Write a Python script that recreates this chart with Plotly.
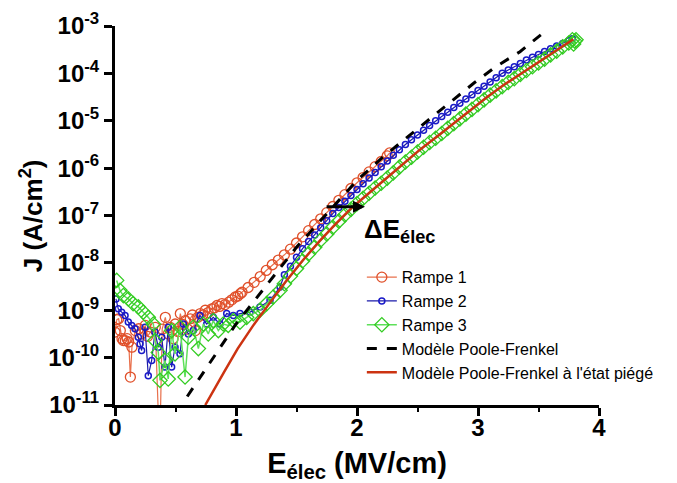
import numpy as np
import plotly.graph_objects as go

# ---------------- data (E in MV/cm, log10 J with J in A/cm^2) ----------------
r1_E = [0.00, 0.015, 0.03, 0.044, 0.058, 0.069, 0.085, 0.10, 0.113, 0.127, 0.14, 0.168, 0.196, 0.22,
        0.25, 0.27, 0.292, 0.333, 0.369, 0.39, 0.416, 0.44, 0.457, 0.48, 0.498, 0.52, 0.54, 0.56,
        0.581, 0.60, 0.622, 0.64, 0.664, 0.685, 0.705, 0.725, 0.746, 0.77, 0.80, 0.82, 0.843, 0.864,
        0.884, 0.91, 0.94, 0.965, 0.994, 1.015, 1.036,
        1.05, 1.10, 1.15, 1.20, 1.25, 1.30, 1.35, 1.40, 1.45, 1.50, 1.55, 1.60, 1.65, 1.70, 1.75,
        1.80, 1.85, 1.90, 1.95, 2.00, 2.05, 2.10, 2.15, 2.20, 2.25, 2.27]
r1_logJ = [-9.46, -9.20, -9.18, -9.43, -9.60, -9.64, -9.64, -9.60, -9.67, -10.41, -9.78, -9.43, -9.39, -9.50,
           -9.32, -9.55, -9.46, -9.36, -12.0, -9.40, -9.15, -9.50, -9.36, -9.60, -9.29, -9.45, -9.07, -9.30,
           -9.22, -9.40, -9.18, -9.10, -9.43, -9.15, -9.07, -9.10, -9.00, -9.05, -8.97, -8.95, -8.90, -8.92,
           -8.86, -8.88, -8.83, -8.78, -8.72, -8.70, -8.65,
           -8.62, -8.52, -8.41, -8.29, -8.16, -8.04, -7.94, -7.83, -7.71, -7.58, -7.45, -7.32, -7.19, -7.07, -6.94,
           -6.81, -6.68, -6.56, -6.43, -6.31, -6.20, -6.08, -5.97, -5.86, -5.74, -5.68]

r2_E = [0.008, 0.027, 0.055, 0.083, 0.11, 0.138, 0.165, 0.193, 0.207, 0.22, 0.248, 0.275, 0.303, 0.33,
        0.358, 0.386, 0.413, 0.44, 0.468, 0.496, 0.537, 0.565, 0.606, 0.647, 0.702, 0.758, 0.812, 0.868,
        0.923, 0.978, 1.033, 1.116, 1.198, 1.281, 1.364,
        1.40, 1.45, 1.50, 1.55, 1.60, 1.65, 1.70, 1.75, 1.80, 1.85, 1.90, 1.95, 2.00, 2.05, 2.10, 2.15,
        2.20, 2.25, 2.30, 2.35, 2.40, 2.45, 2.50, 2.55, 2.60, 2.65, 2.70, 2.75, 2.80, 2.85, 2.90, 2.95,
        3.00, 3.05, 3.10, 3.15, 3.20, 3.25, 3.30, 3.35, 3.40, 3.45, 3.50, 3.55, 3.60, 3.65, 3.70, 3.75, 3.78]
r2_logJ = [-8.76, -8.97, -9.04, -9.11, -9.25, -9.32, -9.39, -9.57, -9.71, -9.85, -9.36, -10.38, -10.06, -9.46,
           -9.78, -9.57, -10.20, -9.36, -10.20, -9.78, -9.92, -9.29, -9.50, -9.43, -9.11, -9.29, -9.15, -9.29,
           -9.07, -9.11, -9.07, -9.04, -8.93, -8.79, -8.51,
           -8.25, -8.07, -7.88, -7.70, -7.55, -7.41, -7.26, -7.11, -6.96, -6.83, -6.70, -6.58, -6.45, -6.33, -6.21, -6.09,
           -5.97, -5.85, -5.73, -5.61, -5.50, -5.40, -5.30, -5.20, -5.10, -5.00, -4.91, -4.82, -4.72, -4.63, -4.54, -4.45,
           -4.36, -4.27, -4.18, -4.09, -4.00, -3.93, -3.86, -3.79, -3.72, -3.66, -3.60, -3.54, -3.48, -3.42, -3.37, -3.31, -3.27]

r3_E = [0.014, 0.041, 0.069, 0.11, 0.15, 0.193, 0.234, 0.275, 0.317, 0.33, 0.358, 0.372, 0.413, 0.44,
        0.468, 0.496, 0.537, 0.579, 0.606, 0.647, 0.689, 0.73, 0.771, 0.812, 0.854, 0.895, 0.936, 0.978,
        1.033, 1.088, 1.143, 1.198, 1.254, 1.308, 1.364,
        1.40, 1.45, 1.50, 1.55, 1.60, 1.65, 1.70, 1.75, 1.80, 1.85, 1.90, 1.95, 2.00, 2.05, 2.10, 2.15,
        2.20, 2.25, 2.30, 2.35, 2.40, 2.45, 2.50, 2.55, 2.60, 2.65, 2.70, 2.75, 2.80, 2.85, 2.90, 2.95,
        3.00, 3.05, 3.10, 3.15, 3.20, 3.25, 3.30, 3.35, 3.40, 3.45, 3.50, 3.55, 3.60, 3.65, 3.70, 3.75,
        3.78, 3.79, 3.80, 3.81]
r3_logJ = [-8.37, -8.58, -8.69, -8.76, -8.86, -8.93, -9.04, -9.15, -9.29, -9.64, -9.89, -10.48, -10.06, -10.45,
           -9.43, -9.92, -9.36, -10.41, -9.57, -9.36, -9.81, -9.29, -9.50, -9.22, -9.43, -9.29, -9.32, -9.22,
           -9.25, -9.15, -9.07, -9.00, -8.86, -8.72, -8.58,
           -8.44, -8.28, -8.12, -7.96, -7.81, -7.67, -7.52, -7.39, -7.25, -7.12, -6.99, -6.87, -6.75, -6.64, -6.53, -6.42,
           -6.32, -6.21, -6.10, -5.98, -5.87, -5.77, -5.66, -5.56, -5.46, -5.37, -5.27, -5.16, -5.06, -4.96, -4.86, -4.76,
           -4.66, -4.56, -4.46, -4.37, -4.28, -4.19, -4.11, -4.02, -3.94, -3.86, -3.78, -3.70, -3.61, -3.53, -3.44, -3.36,
           -3.29, -3.38, -3.32, -3.29]

pf_E = [0.597, 1.0, 1.5, 2.0, 2.217, 2.405, 2.597, 2.782, 2.969, 3.155, 3.347, 3.526, 3.57]
pf_logJ = [-10.82, -9.29, -7.67, -6.26, -5.76, -5.375, -4.973, -4.586, -4.199, -3.846, -3.543, -3.169, -3.08]

pft_E = [0.746, 0.80, 0.90, 1.014, 1.14, 1.275, 1.41, 1.551, 1.69, 1.826, 1.96, 2.102, 2.24, 2.383,
         2.52, 2.659, 2.80, 2.934, 3.07, 3.209, 3.35, 3.485, 3.64, 3.788]
pft_logJ = [-11.0, -10.75, -10.31, -9.81, -9.33, -8.86, -8.40, -7.95, -7.54, -7.17, -6.83, -6.52, -6.22, -5.90,
            -5.61, -5.34, -5.05, -4.78, -4.51, -4.25, -4.01, -3.79, -3.53, -3.28]

y_tick_exps = [-11, -10, -9, -8, -7, -6, -5, -4, -3]
x_ticks = [0, 1, 2, 3, 4]

names = ["Rampe 1", "Rampe 2", "Rampe 3", "Modèle Poole-Frenkel", "Modèle Poole-Frenkel à l'état piégé"]

FONT = "Arial, 'Liberation Sans', sans-serif"

fig = go.Figure()
fig.add_trace(go.Scatter(x=r1_E, y=10 ** np.array(r1_logJ), name=names[0], mode="lines+markers",
                         line=dict(color="#E8704C", width=1.2),
                         marker=dict(symbol="circle-open", size=10, color="#E0502A", line=dict(width=1.3))))
fig.add_trace(go.Scatter(x=r2_E, y=10 ** np.array(r2_logJ), name=names[1], mode="lines+markers",
                         line=dict(color="#1A1AAA", width=1.2),
                         marker=dict(symbol="circle-open", size=6, color="#1A1AC8", line=dict(width=1.5))))
fig.add_trace(go.Scatter(x=r3_E, y=10 ** np.array(r3_logJ), name=names[2], mode="lines+markers",
                         line=dict(color="#5EE05A", width=1.5),
                         marker=dict(symbol="diamond-open", size=11, color="#33CC22", line=dict(width=1.3))))
fig.add_trace(go.Scatter(x=pf_E, y=10 ** np.array(pf_logJ), name=names[3], mode="lines",
                         line=dict(color="black", width=3, dash="10px,10px")))
fig.add_trace(go.Scatter(x=pft_E, y=10 ** np.array(pft_logJ), name=names[4], mode="lines",
                         line=dict(color="#CC3311", width=2.5)))

fig.add_annotation(x=2.066, y=-6.816, ax=1.736, ay=-6.816, xref="x", yref="y", axref="x", ayref="y",
                   showarrow=True, arrowhead=2, arrowsize=0.8, arrowwidth=3, arrowcolor="black", text="")
fig.add_annotation(x=2.04, y=-7.31, xref="x", yref="y", xanchor="left", yanchor="middle", showarrow=False,
                   text="ΔE<sub>élec</sub>", font=dict(family=FONT, size=26, color="black", weight="bold"))
# y-axis title placed as a rotated annotation
fig.add_annotation(x=-0.172, y=0.5, xref="paper", yref="paper", xanchor="center", yanchor="middle",
                   showarrow=False, textangle=-90, text="J (A/cm<sup>2</sup>)",
                   font=dict(family=FONT, size=26, color="black", weight="bold"))

fig.update_layout(
    width=677, height=483,
    margin=dict(l=115, r=78, t=26, b=78, autoexpand=False),
    paper_bgcolor="white", plot_bgcolor="white",
    font=dict(family=FONT, color="black"),
    showlegend=True,
    legend=dict(x=0.51, y=0.382, xanchor="left", yanchor="top", bgcolor="rgba(0,0,0,0)",
                font=dict(family=FONT, size=16, color="black"), tracegroupgap=0),
    xaxis=dict(range=[0, 4], tickvals=x_ticks, ticktext=[str(v) for v in x_ticks], automargin=False,
               showline=True, linewidth=3, linecolor="black", ticks="outside", ticklen=8, tickwidth=3,
               tickcolor="black", showgrid=False, zeroline=False, ticklabelstandoff=-9,
               minor=dict(dtick=0.5, ticks="outside", ticklen=4, tickwidth=2, tickcolor="black"),
               tickfont=dict(family=FONT, size=24, color="black", weight="bold"),
               title=dict(text="E<sub>élec</sub> (MV/cm)", standoff=15,
                          font=dict(family=FONT, size=29, color="black", weight="bold"))),
    yaxis=dict(type="log", range=[-11, -3], tickvals=[10.0 ** e for e in y_tick_exps],
               ticktext=["10<sup>%d</sup>" % e for e in y_tick_exps], automargin=False,
               showline=True, linewidth=3, linecolor="black", ticks="outside", ticklen=8, tickwidth=3,
               tickcolor="black", showgrid=False, zeroline=False,
               tickfont=dict(family=FONT, size=24, color="black", weight="bold")),
)

fig.write_html("out.html", config={"displayModeBar": False},
               post_script="document.body.style.margin='0';document.body.style.padding='0';")
